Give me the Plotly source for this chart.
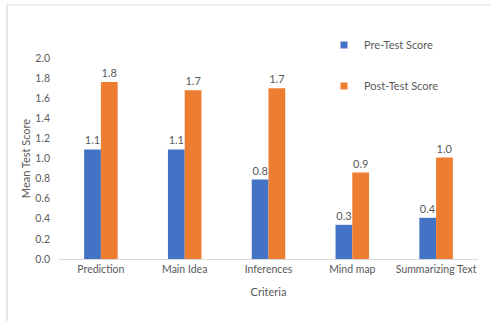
import plotly.graph_objects as go

categories = ["Prediction", "Main Idea", "Inferences", "Mind map", "Summarizing Text"]
pre_scores = [1.09, 1.09, 0.79, 0.34, 0.41]
post_scores = [1.76, 1.68, 1.70, 0.86, 1.01]
pre_labels = ["1.1", "1.1", "0.8", "0.3", "0.4"]
post_labels = ["1.8", "1.7", "1.7", "0.9", "1.0"]
y_ticks = [0.0, 0.2, 0.4, 0.6, 0.8, 1.0, 1.2, 1.4, 1.6, 1.8, 2.0]

W, H = 490, 321
L, R, T, B = 59, 12, 58, 62
FONT = "Lato, Open Sans, sans-serif"
GRAY = "#595959"
BLUE = "#4472C4"
ORANGE = "#ED7D31"

fig = go.Figure()
fig.add_trace(go.Bar(
    x=categories, y=pre_scores, name="Pre-Test Score",
    marker=dict(color=BLUE, line=dict(width=0)),
    text=pre_labels, textposition="outside", cliponaxis=False,
    textfont=dict(size=11, color=GRAY, family=FONT),
    showlegend=False,
))
fig.add_trace(go.Bar(
    x=categories, y=post_scores, name="Post-Test Score",
    marker=dict(color=ORANGE, line=dict(width=0)),
    text=post_labels, textposition="outside", cliponaxis=False,
    textfont=dict(size=11, color=GRAY, family=FONT),
    showlegend=False,
))
# legend-only entries with small square swatches
fig.add_trace(go.Scatter(x=[None], y=[None], mode="markers", name="Pre-Test Score",
                         marker=dict(symbol="square", size=7, color=BLUE), legend="legend"))
fig.add_trace(go.Scatter(x=[None], y=[None], mode="markers", name="Post-Test Score",
                         marker=dict(symbol="square", size=7, color=ORANGE), legend="legend2"))

pw = W - L - R
ph = H - T - B
def px_x(p):
    return (p - L) / pw
def px_y(p):
    return (H - B - p) / ph

fig.add_shape(type="line", xref="paper", yref="paper",
              x0=px_x(7), x1=px_x(7), y0=px_y(5), y1=px_y(321),
              line=dict(color="#d9d9d9", width=1.2))
fig.add_shape(type="line", xref="paper", yref="paper",
              x0=px_x(7), x1=px_x(490), y0=px_y(5), y1=px_y(5),
              line=dict(color="#d9d9d9", width=1.2))

legend_common = dict(
    font=dict(size=11, color=GRAY, family=FONT),
    bgcolor="rgba(0,0,0,0)", xanchor="left", yanchor="middle",
    itemwidth=30,
)
fig.update_layout(
    width=W, height=H,
    margin=dict(l=L, r=R, t=T, b=B),
    paper_bgcolor="white", plot_bgcolor="white",
    barmode="group", bargap=0.6, bargroupgap=0,
    font=dict(family=FONT, color=GRAY, size=10),
    showlegend=True,
    legend=dict(x=px_x(324), y=px_y(45), **legend_common),
    legend2=dict(x=px_x(324), y=px_y(86), **legend_common),
    xaxis=dict(
        showline=True, linecolor="#d9d9d9", linewidth=1,
        ticks="", tickfont=dict(size=10.5, color=GRAY, family=FONT),
        title=dict(text="Criteria", font=dict(size=11, color=GRAY, family=FONT), standoff=14),
        showgrid=False,
    ),
    yaxis=dict(
        range=[0, 2.0], tickvals=y_ticks, ticktext=[f"{v:.1f}" for v in y_ticks],
        showgrid=False, zeroline=False, showline=False,
        tickfont=dict(size=10.5, color=GRAY, family=FONT),
        ticklabelstandoff=8,
        title=dict(text="Mean Test Score", font=dict(size=11, color=GRAY, family=FONT), standoff=2),
    ),
)

fig.write_html("out.html")
